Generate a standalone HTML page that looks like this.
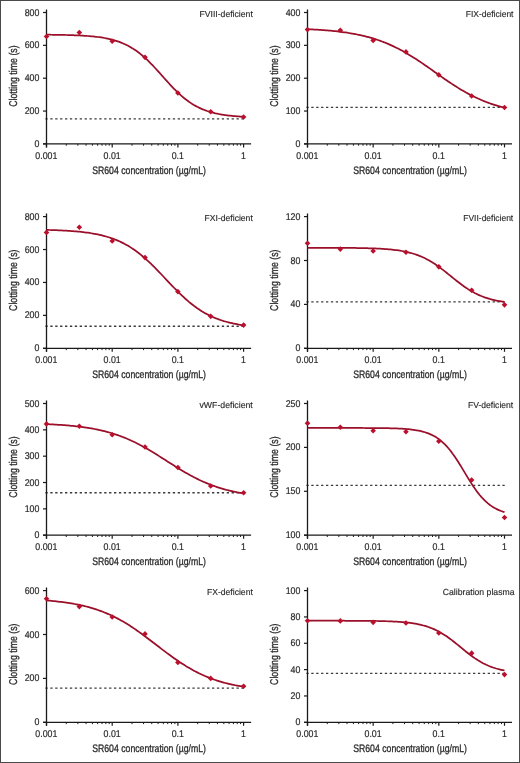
<!DOCTYPE html>
<html><head><meta charset="utf-8"><style>
html,body{margin:0;padding:0;background:#fff;}
svg{display:block;will-change:transform;} text{text-rendering:geometricPrecision;}
</style></head><body>
<svg width="520" height="763" viewBox="0 0 520 763">
<rect x="0" y="0" width="520" height="763" fill="#fff"/>
<g><line x1="45.40" y1="118.93" x2="244.60" y2="118.93" stroke="#3a3a3a" stroke-width="1.35" stroke-dasharray="2.3 2.6"/><path d="M46.50 9.50V147.40M43.00 143.90H251.10" stroke="#1a1a1a" stroke-width="1.3" fill="none"/><line x1="43.00" y1="143.90" x2="46.50" y2="143.90" stroke="#1a1a1a" stroke-width="1.2"/><text transform="translate(39.40,146.90) scale(0.9,1)" text-anchor="end" font-size="9.8" fill="#2a2a2a" stroke="#2a2a2a" stroke-width="0.2" font-family="'Liberation Sans', sans-serif">0</text><line x1="43.00" y1="111.05" x2="46.50" y2="111.05" stroke="#1a1a1a" stroke-width="1.2"/><text transform="translate(39.40,114.05) scale(0.9,1)" text-anchor="end" font-size="9.8" fill="#2a2a2a" stroke="#2a2a2a" stroke-width="0.2" font-family="'Liberation Sans', sans-serif">200</text><line x1="43.00" y1="78.20" x2="46.50" y2="78.20" stroke="#1a1a1a" stroke-width="1.2"/><text transform="translate(39.40,81.20) scale(0.9,1)" text-anchor="end" font-size="9.8" fill="#2a2a2a" stroke="#2a2a2a" stroke-width="0.2" font-family="'Liberation Sans', sans-serif">400</text><line x1="43.00" y1="45.35" x2="46.50" y2="45.35" stroke="#1a1a1a" stroke-width="1.2"/><text transform="translate(39.40,48.35) scale(0.9,1)" text-anchor="end" font-size="9.8" fill="#2a2a2a" stroke="#2a2a2a" stroke-width="0.2" font-family="'Liberation Sans', sans-serif">600</text><line x1="43.00" y1="12.50" x2="46.50" y2="12.50" stroke="#1a1a1a" stroke-width="1.2"/><text transform="translate(39.40,15.50) scale(0.9,1)" text-anchor="end" font-size="9.8" fill="#2a2a2a" stroke="#2a2a2a" stroke-width="0.2" font-family="'Liberation Sans', sans-serif">800</text><line x1="46.50" y1="143.90" x2="46.50" y2="147.40" stroke="#1a1a1a" stroke-width="1.2"/><text transform="translate(46.40,159.00) scale(0.9,1)" text-anchor="middle" font-size="9.8" fill="#2a2a2a" stroke="#2a2a2a" stroke-width="0.2" font-family="'Liberation Sans', sans-serif">0.001</text><line x1="112.20" y1="143.90" x2="112.20" y2="147.40" stroke="#1a1a1a" stroke-width="1.2"/><text transform="translate(112.10,159.00) scale(0.9,1)" text-anchor="middle" font-size="9.8" fill="#2a2a2a" stroke="#2a2a2a" stroke-width="0.2" font-family="'Liberation Sans', sans-serif">0.01</text><line x1="177.90" y1="143.90" x2="177.90" y2="147.40" stroke="#1a1a1a" stroke-width="1.2"/><text transform="translate(177.80,159.00) scale(0.9,1)" text-anchor="middle" font-size="9.8" fill="#2a2a2a" stroke="#2a2a2a" stroke-width="0.2" font-family="'Liberation Sans', sans-serif">0.1</text><line x1="243.60" y1="143.90" x2="243.60" y2="147.40" stroke="#1a1a1a" stroke-width="1.2"/><text transform="translate(243.50,159.00) scale(0.9,1)" text-anchor="middle" font-size="9.8" fill="#2a2a2a" stroke="#2a2a2a" stroke-width="0.2" font-family="'Liberation Sans', sans-serif">1</text><line x1="66.28" y1="143.90" x2="66.28" y2="145.70" stroke="#1a1a1a" stroke-width="1"/><line x1="77.85" y1="143.90" x2="77.85" y2="145.70" stroke="#1a1a1a" stroke-width="1"/><line x1="86.06" y1="143.90" x2="86.06" y2="145.70" stroke="#1a1a1a" stroke-width="1"/><line x1="92.42" y1="143.90" x2="92.42" y2="145.70" stroke="#1a1a1a" stroke-width="1"/><line x1="97.62" y1="143.90" x2="97.62" y2="145.70" stroke="#1a1a1a" stroke-width="1"/><line x1="102.02" y1="143.90" x2="102.02" y2="145.70" stroke="#1a1a1a" stroke-width="1"/><line x1="105.83" y1="143.90" x2="105.83" y2="145.70" stroke="#1a1a1a" stroke-width="1"/><line x1="109.19" y1="143.90" x2="109.19" y2="145.70" stroke="#1a1a1a" stroke-width="1"/><line x1="131.98" y1="143.90" x2="131.98" y2="145.70" stroke="#1a1a1a" stroke-width="1"/><line x1="143.55" y1="143.90" x2="143.55" y2="145.70" stroke="#1a1a1a" stroke-width="1"/><line x1="151.76" y1="143.90" x2="151.76" y2="145.70" stroke="#1a1a1a" stroke-width="1"/><line x1="158.12" y1="143.90" x2="158.12" y2="145.70" stroke="#1a1a1a" stroke-width="1"/><line x1="163.32" y1="143.90" x2="163.32" y2="145.70" stroke="#1a1a1a" stroke-width="1"/><line x1="167.72" y1="143.90" x2="167.72" y2="145.70" stroke="#1a1a1a" stroke-width="1"/><line x1="171.53" y1="143.90" x2="171.53" y2="145.70" stroke="#1a1a1a" stroke-width="1"/><line x1="174.89" y1="143.90" x2="174.89" y2="145.70" stroke="#1a1a1a" stroke-width="1"/><line x1="197.68" y1="143.90" x2="197.68" y2="145.70" stroke="#1a1a1a" stroke-width="1"/><line x1="209.25" y1="143.90" x2="209.25" y2="145.70" stroke="#1a1a1a" stroke-width="1"/><line x1="217.46" y1="143.90" x2="217.46" y2="145.70" stroke="#1a1a1a" stroke-width="1"/><line x1="223.82" y1="143.90" x2="223.82" y2="145.70" stroke="#1a1a1a" stroke-width="1"/><line x1="229.02" y1="143.90" x2="229.02" y2="145.70" stroke="#1a1a1a" stroke-width="1"/><line x1="233.42" y1="143.90" x2="233.42" y2="145.70" stroke="#1a1a1a" stroke-width="1"/><line x1="237.23" y1="143.90" x2="237.23" y2="145.70" stroke="#1a1a1a" stroke-width="1"/><line x1="240.59" y1="143.90" x2="240.59" y2="145.70" stroke="#1a1a1a" stroke-width="1"/><polyline points="46.50,34.70 48.16,34.71 49.81,34.73 51.47,34.75 53.13,34.77 54.78,34.79 56.44,34.81 58.09,34.84 59.75,34.86 61.41,34.89 63.06,34.93 64.72,34.96 66.38,35.00 68.03,35.04 69.69,35.09 71.34,35.14 73.00,35.20 74.66,35.26 76.31,35.33 77.97,35.40 79.63,35.48 81.28,35.56 82.94,35.66 84.59,35.76 86.25,35.87 87.91,36.00 89.56,36.13 91.22,36.28 92.88,36.43 94.53,36.61 96.19,36.79 97.85,37.00 99.50,37.22 101.16,37.46 102.81,37.73 104.47,38.01 106.13,38.32 107.78,38.66 109.44,39.03 111.10,39.42 112.75,39.85 114.41,40.31 116.06,40.81 117.72,41.35 119.38,41.93 121.03,42.56 122.69,43.23 124.35,43.95 126.00,44.72 127.66,45.55 129.32,46.44 130.97,47.38 132.63,48.38 134.28,49.45 135.94,50.57 137.60,51.76 139.25,53.02 140.91,54.34 142.57,55.72 144.22,57.16 145.88,58.67 147.53,60.23 149.19,61.85 150.85,63.52 152.50,65.23 154.16,66.98 155.82,68.77 157.47,70.59 159.13,72.43 160.78,74.29 162.44,76.15 164.10,78.01 165.75,79.87 167.41,81.71 169.07,83.52 170.72,85.31 172.38,87.07 174.04,88.78 175.69,90.45 177.35,92.07 179.00,93.63 180.66,95.14 182.32,96.58 183.97,97.97 185.63,99.29 187.29,100.54 188.94,101.74 190.60,102.86 192.25,103.93 193.91,104.93 195.57,105.88 197.22,106.76 198.88,107.59 200.54,108.36 202.19,109.09 203.85,109.76 205.51,110.39 207.16,110.97 208.82,111.51 210.47,112.01 212.13,112.47 213.79,112.90 215.44,113.30 217.10,113.66 218.76,114.00 220.41,114.31 222.07,114.60 223.72,114.86 225.38,115.10 227.04,115.33 228.69,115.53 230.35,115.72 232.01,115.89 233.66,116.05 235.32,116.20 236.97,116.33 238.63,116.45 240.29,116.57 241.94,116.67 243.60,116.76" fill="none" stroke="#9a0f2a" stroke-width="1.75" stroke-linejoin="round"/><path d="M46.50 33.68L49.30 36.48L46.50 39.28L43.70 36.48Z" fill="#bb102d"/><path d="M79.33 29.74L82.13 32.54L79.33 35.34L76.53 32.54Z" fill="#bb102d"/><path d="M112.20 38.44L115.00 41.24L112.20 44.04L109.40 41.24Z" fill="#bb102d"/><path d="M145.03 54.54L147.83 57.34L145.03 60.14L142.23 57.34Z" fill="#bb102d"/><path d="M177.90 90.18L180.70 92.98L177.90 95.78L175.10 92.98Z" fill="#bb102d"/><path d="M210.73 108.91L213.53 111.71L210.73 114.51L207.93 111.71Z" fill="#bb102d"/><path d="M243.60 114.16L246.40 116.96L243.60 119.76L240.80 116.96Z" fill="#bb102d"/><text x="199.50" y="16.70" font-size="8.8" fill="#2a2a2a" stroke="#2a2a2a" stroke-width="0.15" font-family="'Liberation Sans', sans-serif" textLength="53.30" lengthAdjust="spacingAndGlyphs">FVIII-deficient</text><text x="92.20" y="173.50" font-size="10.8" fill="#2a2a2a" stroke="#2a2a2a" stroke-width="0.3" font-family="'Liberation Sans', sans-serif" textLength="113.8" lengthAdjust="spacingAndGlyphs">SR604 concentration (µg/mL)</text><text transform="translate(16.80,76.10) rotate(-90)" x="0" y="0" text-anchor="middle" font-size="11.3" fill="#2a2a2a" stroke="#2a2a2a" stroke-width="0.3" font-family="'Liberation Sans', sans-serif" textLength="61.5" lengthAdjust="spacingAndGlyphs">Clotting time (s)</text></g>
<g><line x1="306.40" y1="107.44" x2="505.50" y2="107.44" stroke="#3a3a3a" stroke-width="1.35" stroke-dasharray="2.3 2.6"/><path d="M307.50 9.50V147.40M304.00 143.90H512.00" stroke="#1a1a1a" stroke-width="1.3" fill="none"/><line x1="304.00" y1="143.90" x2="307.50" y2="143.90" stroke="#1a1a1a" stroke-width="1.2"/><text transform="translate(300.40,146.90) scale(0.9,1)" text-anchor="end" font-size="9.8" fill="#2a2a2a" stroke="#2a2a2a" stroke-width="0.2" font-family="'Liberation Sans', sans-serif">0</text><line x1="304.00" y1="111.05" x2="307.50" y2="111.05" stroke="#1a1a1a" stroke-width="1.2"/><text transform="translate(300.40,114.05) scale(0.9,1)" text-anchor="end" font-size="9.8" fill="#2a2a2a" stroke="#2a2a2a" stroke-width="0.2" font-family="'Liberation Sans', sans-serif">100</text><line x1="304.00" y1="78.20" x2="307.50" y2="78.20" stroke="#1a1a1a" stroke-width="1.2"/><text transform="translate(300.40,81.20) scale(0.9,1)" text-anchor="end" font-size="9.8" fill="#2a2a2a" stroke="#2a2a2a" stroke-width="0.2" font-family="'Liberation Sans', sans-serif">200</text><line x1="304.00" y1="45.35" x2="307.50" y2="45.35" stroke="#1a1a1a" stroke-width="1.2"/><text transform="translate(300.40,48.35) scale(0.9,1)" text-anchor="end" font-size="9.8" fill="#2a2a2a" stroke="#2a2a2a" stroke-width="0.2" font-family="'Liberation Sans', sans-serif">300</text><line x1="304.00" y1="12.50" x2="307.50" y2="12.50" stroke="#1a1a1a" stroke-width="1.2"/><text transform="translate(300.40,15.50) scale(0.9,1)" text-anchor="end" font-size="9.8" fill="#2a2a2a" stroke="#2a2a2a" stroke-width="0.2" font-family="'Liberation Sans', sans-serif">400</text><line x1="307.50" y1="143.90" x2="307.50" y2="147.40" stroke="#1a1a1a" stroke-width="1.2"/><text transform="translate(307.40,159.00) scale(0.9,1)" text-anchor="middle" font-size="9.8" fill="#2a2a2a" stroke="#2a2a2a" stroke-width="0.2" font-family="'Liberation Sans', sans-serif">0.001</text><line x1="373.17" y1="143.90" x2="373.17" y2="147.40" stroke="#1a1a1a" stroke-width="1.2"/><text transform="translate(373.07,159.00) scale(0.9,1)" text-anchor="middle" font-size="9.8" fill="#2a2a2a" stroke="#2a2a2a" stroke-width="0.2" font-family="'Liberation Sans', sans-serif">0.01</text><line x1="438.83" y1="143.90" x2="438.83" y2="147.40" stroke="#1a1a1a" stroke-width="1.2"/><text transform="translate(438.73,159.00) scale(0.9,1)" text-anchor="middle" font-size="9.8" fill="#2a2a2a" stroke="#2a2a2a" stroke-width="0.2" font-family="'Liberation Sans', sans-serif">0.1</text><line x1="504.50" y1="143.90" x2="504.50" y2="147.40" stroke="#1a1a1a" stroke-width="1.2"/><text transform="translate(504.40,159.00) scale(0.9,1)" text-anchor="middle" font-size="9.8" fill="#2a2a2a" stroke="#2a2a2a" stroke-width="0.2" font-family="'Liberation Sans', sans-serif">1</text><line x1="327.27" y1="143.90" x2="327.27" y2="145.70" stroke="#1a1a1a" stroke-width="1"/><line x1="338.83" y1="143.90" x2="338.83" y2="145.70" stroke="#1a1a1a" stroke-width="1"/><line x1="347.04" y1="143.90" x2="347.04" y2="145.70" stroke="#1a1a1a" stroke-width="1"/><line x1="353.40" y1="143.90" x2="353.40" y2="145.70" stroke="#1a1a1a" stroke-width="1"/><line x1="358.60" y1="143.90" x2="358.60" y2="145.70" stroke="#1a1a1a" stroke-width="1"/><line x1="362.99" y1="143.90" x2="362.99" y2="145.70" stroke="#1a1a1a" stroke-width="1"/><line x1="366.80" y1="143.90" x2="366.80" y2="145.70" stroke="#1a1a1a" stroke-width="1"/><line x1="370.16" y1="143.90" x2="370.16" y2="145.70" stroke="#1a1a1a" stroke-width="1"/><line x1="392.93" y1="143.90" x2="392.93" y2="145.70" stroke="#1a1a1a" stroke-width="1"/><line x1="404.50" y1="143.90" x2="404.50" y2="145.70" stroke="#1a1a1a" stroke-width="1"/><line x1="412.70" y1="143.90" x2="412.70" y2="145.70" stroke="#1a1a1a" stroke-width="1"/><line x1="419.07" y1="143.90" x2="419.07" y2="145.70" stroke="#1a1a1a" stroke-width="1"/><line x1="424.27" y1="143.90" x2="424.27" y2="145.70" stroke="#1a1a1a" stroke-width="1"/><line x1="428.66" y1="143.90" x2="428.66" y2="145.70" stroke="#1a1a1a" stroke-width="1"/><line x1="432.47" y1="143.90" x2="432.47" y2="145.70" stroke="#1a1a1a" stroke-width="1"/><line x1="435.83" y1="143.90" x2="435.83" y2="145.70" stroke="#1a1a1a" stroke-width="1"/><line x1="458.60" y1="143.90" x2="458.60" y2="145.70" stroke="#1a1a1a" stroke-width="1"/><line x1="470.16" y1="143.90" x2="470.16" y2="145.70" stroke="#1a1a1a" stroke-width="1"/><line x1="478.37" y1="143.90" x2="478.37" y2="145.70" stroke="#1a1a1a" stroke-width="1"/><line x1="484.73" y1="143.90" x2="484.73" y2="145.70" stroke="#1a1a1a" stroke-width="1"/><line x1="489.93" y1="143.90" x2="489.93" y2="145.70" stroke="#1a1a1a" stroke-width="1"/><line x1="494.33" y1="143.90" x2="494.33" y2="145.70" stroke="#1a1a1a" stroke-width="1"/><line x1="498.14" y1="143.90" x2="498.14" y2="145.70" stroke="#1a1a1a" stroke-width="1"/><line x1="501.50" y1="143.90" x2="501.50" y2="145.70" stroke="#1a1a1a" stroke-width="1"/><polyline points="307.50,29.17 309.16,29.25 310.81,29.33 312.47,29.42 314.12,29.51 315.78,29.60 317.43,29.71 319.09,29.81 320.74,29.92 322.40,30.04 324.05,30.17 325.71,30.30 327.37,30.44 329.02,30.58 330.68,30.73 332.33,30.89 333.99,31.06 335.64,31.24 337.30,31.42 338.95,31.61 340.61,31.82 342.26,32.03 343.92,32.26 345.58,32.49 347.23,32.74 348.89,33.00 350.54,33.27 352.20,33.55 353.85,33.85 355.51,34.16 357.16,34.49 358.82,34.83 360.47,35.18 362.13,35.56 363.79,35.95 365.44,36.35 367.10,36.78 368.75,37.22 370.41,37.68 372.06,38.16 373.72,38.66 375.37,39.18 377.03,39.72 378.68,40.28 380.34,40.87 382.00,41.48 383.65,42.11 385.31,42.76 386.96,43.43 388.62,44.13 390.27,44.86 391.93,45.60 393.58,46.38 395.24,47.17 396.89,47.99 398.55,48.83 400.21,49.70 401.86,50.59 403.52,51.50 405.17,52.44 406.83,53.40 408.48,54.38 410.14,55.38 411.79,56.40 413.45,57.44 415.11,58.50 416.76,59.58 418.42,60.67 420.07,61.77 421.73,62.89 423.38,64.03 425.04,65.17 426.69,66.32 428.35,67.48 430.00,68.65 431.66,69.82 433.32,70.99 434.97,72.17 436.63,73.34 438.28,74.52 439.94,75.69 441.59,76.85 443.25,78.01 444.90,79.16 446.56,80.30 448.21,81.42 449.87,82.54 451.53,83.64 453.18,84.73 454.84,85.79 456.49,86.85 458.15,87.88 459.80,88.89 461.46,89.88 463.11,90.85 464.77,91.80 466.42,92.73 468.08,93.63 469.74,94.52 471.39,95.37 473.05,96.21 474.70,97.02 476.36,97.80 478.01,98.56 479.67,99.30 481.32,100.01 482.98,100.70 484.63,101.37 486.29,102.01 487.95,102.63 489.60,103.23 491.26,103.81 492.91,104.36 494.57,104.89 496.22,105.41 497.88,105.90 499.53,106.37 501.19,106.82 502.84,107.26 504.50,107.68" fill="none" stroke="#9a0f2a" stroke-width="1.75" stroke-linejoin="round"/><path d="M307.50 26.78L310.30 29.58L307.50 32.38L304.70 29.58Z" fill="#bb102d"/><path d="M340.31 27.44L343.11 30.24L340.31 33.04L337.51 30.24Z" fill="#bb102d"/><path d="M373.17 37.62L375.97 40.42L373.17 43.22L370.37 40.42Z" fill="#bb102d"/><path d="M405.98 49.12L408.78 51.92L405.98 54.72L403.18 51.92Z" fill="#bb102d"/><path d="M438.83 72.12L441.63 74.92L438.83 77.72L436.03 74.92Z" fill="#bb102d"/><path d="M471.65 93.14L474.45 95.94L471.65 98.74L468.85 95.94Z" fill="#bb102d"/><path d="M504.50 104.64L507.30 107.44L504.50 110.24L501.70 107.44Z" fill="#bb102d"/><text x="465.70" y="16.70" font-size="8.8" fill="#2a2a2a" stroke="#2a2a2a" stroke-width="0.15" font-family="'Liberation Sans', sans-serif" textLength="47.80" lengthAdjust="spacingAndGlyphs">FIX-deficient</text><text x="353.20" y="173.50" font-size="10.8" fill="#2a2a2a" stroke="#2a2a2a" stroke-width="0.3" font-family="'Liberation Sans', sans-serif" textLength="113.8" lengthAdjust="spacingAndGlyphs">SR604 concentration (µg/mL)</text><text transform="translate(277.80,76.10) rotate(-90)" x="0" y="0" text-anchor="middle" font-size="11.3" fill="#2a2a2a" stroke="#2a2a2a" stroke-width="0.3" font-family="'Liberation Sans', sans-serif" textLength="61.5" lengthAdjust="spacingAndGlyphs">Clotting time (s)</text></g>
<g><line x1="45.40" y1="326.24" x2="244.60" y2="326.24" stroke="#3a3a3a" stroke-width="1.35" stroke-dasharray="2.3 2.6"/><path d="M46.50 213.60V351.80M43.00 348.30H251.10" stroke="#1a1a1a" stroke-width="1.3" fill="none"/><line x1="43.00" y1="348.30" x2="46.50" y2="348.30" stroke="#1a1a1a" stroke-width="1.2"/><text transform="translate(39.40,351.30) scale(0.9,1)" text-anchor="end" font-size="9.8" fill="#2a2a2a" stroke="#2a2a2a" stroke-width="0.2" font-family="'Liberation Sans', sans-serif">0</text><line x1="43.00" y1="315.38" x2="46.50" y2="315.38" stroke="#1a1a1a" stroke-width="1.2"/><text transform="translate(39.40,318.38) scale(0.9,1)" text-anchor="end" font-size="9.8" fill="#2a2a2a" stroke="#2a2a2a" stroke-width="0.2" font-family="'Liberation Sans', sans-serif">200</text><line x1="43.00" y1="282.45" x2="46.50" y2="282.45" stroke="#1a1a1a" stroke-width="1.2"/><text transform="translate(39.40,285.45) scale(0.9,1)" text-anchor="end" font-size="9.8" fill="#2a2a2a" stroke="#2a2a2a" stroke-width="0.2" font-family="'Liberation Sans', sans-serif">400</text><line x1="43.00" y1="249.53" x2="46.50" y2="249.53" stroke="#1a1a1a" stroke-width="1.2"/><text transform="translate(39.40,252.53) scale(0.9,1)" text-anchor="end" font-size="9.8" fill="#2a2a2a" stroke="#2a2a2a" stroke-width="0.2" font-family="'Liberation Sans', sans-serif">600</text><line x1="43.00" y1="216.60" x2="46.50" y2="216.60" stroke="#1a1a1a" stroke-width="1.2"/><text transform="translate(39.40,219.60) scale(0.9,1)" text-anchor="end" font-size="9.8" fill="#2a2a2a" stroke="#2a2a2a" stroke-width="0.2" font-family="'Liberation Sans', sans-serif">800</text><line x1="46.50" y1="348.30" x2="46.50" y2="351.80" stroke="#1a1a1a" stroke-width="1.2"/><text transform="translate(46.40,363.40) scale(0.9,1)" text-anchor="middle" font-size="9.8" fill="#2a2a2a" stroke="#2a2a2a" stroke-width="0.2" font-family="'Liberation Sans', sans-serif">0.001</text><line x1="112.20" y1="348.30" x2="112.20" y2="351.80" stroke="#1a1a1a" stroke-width="1.2"/><text transform="translate(112.10,363.40) scale(0.9,1)" text-anchor="middle" font-size="9.8" fill="#2a2a2a" stroke="#2a2a2a" stroke-width="0.2" font-family="'Liberation Sans', sans-serif">0.01</text><line x1="177.90" y1="348.30" x2="177.90" y2="351.80" stroke="#1a1a1a" stroke-width="1.2"/><text transform="translate(177.80,363.40) scale(0.9,1)" text-anchor="middle" font-size="9.8" fill="#2a2a2a" stroke="#2a2a2a" stroke-width="0.2" font-family="'Liberation Sans', sans-serif">0.1</text><line x1="243.60" y1="348.30" x2="243.60" y2="351.80" stroke="#1a1a1a" stroke-width="1.2"/><text transform="translate(243.50,363.40) scale(0.9,1)" text-anchor="middle" font-size="9.8" fill="#2a2a2a" stroke="#2a2a2a" stroke-width="0.2" font-family="'Liberation Sans', sans-serif">1</text><line x1="66.28" y1="348.30" x2="66.28" y2="350.10" stroke="#1a1a1a" stroke-width="1"/><line x1="77.85" y1="348.30" x2="77.85" y2="350.10" stroke="#1a1a1a" stroke-width="1"/><line x1="86.06" y1="348.30" x2="86.06" y2="350.10" stroke="#1a1a1a" stroke-width="1"/><line x1="92.42" y1="348.30" x2="92.42" y2="350.10" stroke="#1a1a1a" stroke-width="1"/><line x1="97.62" y1="348.30" x2="97.62" y2="350.10" stroke="#1a1a1a" stroke-width="1"/><line x1="102.02" y1="348.30" x2="102.02" y2="350.10" stroke="#1a1a1a" stroke-width="1"/><line x1="105.83" y1="348.30" x2="105.83" y2="350.10" stroke="#1a1a1a" stroke-width="1"/><line x1="109.19" y1="348.30" x2="109.19" y2="350.10" stroke="#1a1a1a" stroke-width="1"/><line x1="131.98" y1="348.30" x2="131.98" y2="350.10" stroke="#1a1a1a" stroke-width="1"/><line x1="143.55" y1="348.30" x2="143.55" y2="350.10" stroke="#1a1a1a" stroke-width="1"/><line x1="151.76" y1="348.30" x2="151.76" y2="350.10" stroke="#1a1a1a" stroke-width="1"/><line x1="158.12" y1="348.30" x2="158.12" y2="350.10" stroke="#1a1a1a" stroke-width="1"/><line x1="163.32" y1="348.30" x2="163.32" y2="350.10" stroke="#1a1a1a" stroke-width="1"/><line x1="167.72" y1="348.30" x2="167.72" y2="350.10" stroke="#1a1a1a" stroke-width="1"/><line x1="171.53" y1="348.30" x2="171.53" y2="350.10" stroke="#1a1a1a" stroke-width="1"/><line x1="174.89" y1="348.30" x2="174.89" y2="350.10" stroke="#1a1a1a" stroke-width="1"/><line x1="197.68" y1="348.30" x2="197.68" y2="350.10" stroke="#1a1a1a" stroke-width="1"/><line x1="209.25" y1="348.30" x2="209.25" y2="350.10" stroke="#1a1a1a" stroke-width="1"/><line x1="217.46" y1="348.30" x2="217.46" y2="350.10" stroke="#1a1a1a" stroke-width="1"/><line x1="223.82" y1="348.30" x2="223.82" y2="350.10" stroke="#1a1a1a" stroke-width="1"/><line x1="229.02" y1="348.30" x2="229.02" y2="350.10" stroke="#1a1a1a" stroke-width="1"/><line x1="233.42" y1="348.30" x2="233.42" y2="350.10" stroke="#1a1a1a" stroke-width="1"/><line x1="237.23" y1="348.30" x2="237.23" y2="350.10" stroke="#1a1a1a" stroke-width="1"/><line x1="240.59" y1="348.30" x2="240.59" y2="350.10" stroke="#1a1a1a" stroke-width="1"/><polyline points="46.50,229.91 48.16,229.95 49.81,230.00 51.47,230.05 53.13,230.10 54.78,230.16 56.44,230.22 58.09,230.29 59.75,230.36 61.41,230.44 63.06,230.52 64.72,230.61 66.38,230.70 68.03,230.80 69.69,230.91 71.34,231.03 73.00,231.15 74.66,231.28 76.31,231.43 77.97,231.58 79.63,231.74 81.28,231.92 82.94,232.10 84.59,232.30 86.25,232.51 87.91,232.74 89.56,232.98 91.22,233.24 92.88,233.52 94.53,233.81 96.19,234.13 97.85,234.46 99.50,234.82 101.16,235.20 102.81,235.61 104.47,236.04 106.13,236.50 107.78,236.99 109.44,237.50 111.10,238.05 112.75,238.64 114.41,239.25 116.06,239.90 117.72,240.59 119.38,241.32 121.03,242.09 122.69,242.90 124.35,243.76 126.00,244.65 127.66,245.60 129.32,246.59 130.97,247.62 132.63,248.70 134.28,249.83 135.94,251.01 137.60,252.24 139.25,253.51 140.91,254.84 142.57,256.20 144.22,257.62 145.88,259.07 147.53,260.57 149.19,262.11 150.85,263.69 152.50,265.30 154.16,266.94 155.82,268.61 157.47,270.31 159.13,272.03 160.78,273.76 162.44,275.51 164.10,277.27 165.75,279.03 167.41,280.79 169.07,282.54 170.72,284.29 172.38,286.03 174.04,287.74 175.69,289.44 177.35,291.11 179.00,292.75 180.66,294.36 182.32,295.94 183.97,297.48 185.63,298.98 187.29,300.43 188.94,301.85 190.60,303.21 192.25,304.53 193.91,305.81 195.57,307.03 197.22,308.21 198.88,309.34 200.54,310.42 202.19,311.46 203.85,312.44 205.51,313.39 207.16,314.28 208.82,315.14 210.47,315.95 212.13,316.71 213.79,317.44 215.44,318.13 217.10,318.78 218.76,319.40 220.41,319.98 222.07,320.53 223.72,321.05 225.38,321.53 227.04,321.99 228.69,322.42 230.35,322.83 232.01,323.21 233.66,323.57 235.32,323.90 236.97,324.22 238.63,324.51 240.29,324.79 241.94,325.05 243.60,325.29" fill="none" stroke="#9a0f2a" stroke-width="1.75" stroke-linejoin="round"/><path d="M46.50 229.60L49.30 232.40L46.50 235.20L43.70 232.40Z" fill="#bb102d"/><path d="M79.33 224.50L82.13 227.30L79.33 230.10L76.53 227.30Z" fill="#bb102d"/><path d="M112.20 238.16L115.00 240.96L112.20 243.76L109.40 240.96Z" fill="#bb102d"/><path d="M145.03 254.79L147.83 257.59L145.03 260.39L142.23 257.59Z" fill="#bb102d"/><path d="M177.90 288.87L180.70 291.67L177.90 294.47L175.10 291.67Z" fill="#bb102d"/><path d="M210.73 313.56L213.53 316.36L210.73 319.16L207.93 316.36Z" fill="#bb102d"/><path d="M243.60 322.29L246.40 325.09L243.60 327.89L240.80 325.09Z" fill="#bb102d"/><text x="204.60" y="220.80" font-size="8.8" fill="#2a2a2a" stroke="#2a2a2a" stroke-width="0.15" font-family="'Liberation Sans', sans-serif" textLength="48.20" lengthAdjust="spacingAndGlyphs">FXI-deficient</text><text x="92.20" y="377.90" font-size="10.8" fill="#2a2a2a" stroke="#2a2a2a" stroke-width="0.3" font-family="'Liberation Sans', sans-serif" textLength="113.8" lengthAdjust="spacingAndGlyphs">SR604 concentration (µg/mL)</text><text transform="translate(16.80,280.20) rotate(-90)" x="0" y="0" text-anchor="middle" font-size="11.3" fill="#2a2a2a" stroke="#2a2a2a" stroke-width="0.3" font-family="'Liberation Sans', sans-serif" textLength="61.5" lengthAdjust="spacingAndGlyphs">Clotting time (s)</text></g>
<g><line x1="306.40" y1="301.88" x2="505.50" y2="301.88" stroke="#3a3a3a" stroke-width="1.35" stroke-dasharray="2.3 2.6"/><path d="M307.50 213.60V351.80M304.00 348.30H512.00" stroke="#1a1a1a" stroke-width="1.3" fill="none"/><line x1="304.00" y1="348.30" x2="307.50" y2="348.30" stroke="#1a1a1a" stroke-width="1.2"/><text transform="translate(300.40,351.30) scale(0.9,1)" text-anchor="end" font-size="9.8" fill="#2a2a2a" stroke="#2a2a2a" stroke-width="0.2" font-family="'Liberation Sans', sans-serif">0</text><line x1="304.00" y1="304.40" x2="307.50" y2="304.40" stroke="#1a1a1a" stroke-width="1.2"/><text transform="translate(300.40,307.40) scale(0.9,1)" text-anchor="end" font-size="9.8" fill="#2a2a2a" stroke="#2a2a2a" stroke-width="0.2" font-family="'Liberation Sans', sans-serif">40</text><line x1="304.00" y1="260.50" x2="307.50" y2="260.50" stroke="#1a1a1a" stroke-width="1.2"/><text transform="translate(300.40,263.50) scale(0.9,1)" text-anchor="end" font-size="9.8" fill="#2a2a2a" stroke="#2a2a2a" stroke-width="0.2" font-family="'Liberation Sans', sans-serif">80</text><line x1="304.00" y1="216.60" x2="307.50" y2="216.60" stroke="#1a1a1a" stroke-width="1.2"/><text transform="translate(300.40,219.60) scale(0.9,1)" text-anchor="end" font-size="9.8" fill="#2a2a2a" stroke="#2a2a2a" stroke-width="0.2" font-family="'Liberation Sans', sans-serif">120</text><line x1="307.50" y1="348.30" x2="307.50" y2="351.80" stroke="#1a1a1a" stroke-width="1.2"/><text transform="translate(307.40,363.40) scale(0.9,1)" text-anchor="middle" font-size="9.8" fill="#2a2a2a" stroke="#2a2a2a" stroke-width="0.2" font-family="'Liberation Sans', sans-serif">0.001</text><line x1="373.17" y1="348.30" x2="373.17" y2="351.80" stroke="#1a1a1a" stroke-width="1.2"/><text transform="translate(373.07,363.40) scale(0.9,1)" text-anchor="middle" font-size="9.8" fill="#2a2a2a" stroke="#2a2a2a" stroke-width="0.2" font-family="'Liberation Sans', sans-serif">0.01</text><line x1="438.83" y1="348.30" x2="438.83" y2="351.80" stroke="#1a1a1a" stroke-width="1.2"/><text transform="translate(438.73,363.40) scale(0.9,1)" text-anchor="middle" font-size="9.8" fill="#2a2a2a" stroke="#2a2a2a" stroke-width="0.2" font-family="'Liberation Sans', sans-serif">0.1</text><line x1="504.50" y1="348.30" x2="504.50" y2="351.80" stroke="#1a1a1a" stroke-width="1.2"/><text transform="translate(504.40,363.40) scale(0.9,1)" text-anchor="middle" font-size="9.8" fill="#2a2a2a" stroke="#2a2a2a" stroke-width="0.2" font-family="'Liberation Sans', sans-serif">1</text><line x1="327.27" y1="348.30" x2="327.27" y2="350.10" stroke="#1a1a1a" stroke-width="1"/><line x1="338.83" y1="348.30" x2="338.83" y2="350.10" stroke="#1a1a1a" stroke-width="1"/><line x1="347.04" y1="348.30" x2="347.04" y2="350.10" stroke="#1a1a1a" stroke-width="1"/><line x1="353.40" y1="348.30" x2="353.40" y2="350.10" stroke="#1a1a1a" stroke-width="1"/><line x1="358.60" y1="348.30" x2="358.60" y2="350.10" stroke="#1a1a1a" stroke-width="1"/><line x1="362.99" y1="348.30" x2="362.99" y2="350.10" stroke="#1a1a1a" stroke-width="1"/><line x1="366.80" y1="348.30" x2="366.80" y2="350.10" stroke="#1a1a1a" stroke-width="1"/><line x1="370.16" y1="348.30" x2="370.16" y2="350.10" stroke="#1a1a1a" stroke-width="1"/><line x1="392.93" y1="348.30" x2="392.93" y2="350.10" stroke="#1a1a1a" stroke-width="1"/><line x1="404.50" y1="348.30" x2="404.50" y2="350.10" stroke="#1a1a1a" stroke-width="1"/><line x1="412.70" y1="348.30" x2="412.70" y2="350.10" stroke="#1a1a1a" stroke-width="1"/><line x1="419.07" y1="348.30" x2="419.07" y2="350.10" stroke="#1a1a1a" stroke-width="1"/><line x1="424.27" y1="348.30" x2="424.27" y2="350.10" stroke="#1a1a1a" stroke-width="1"/><line x1="428.66" y1="348.30" x2="428.66" y2="350.10" stroke="#1a1a1a" stroke-width="1"/><line x1="432.47" y1="348.30" x2="432.47" y2="350.10" stroke="#1a1a1a" stroke-width="1"/><line x1="435.83" y1="348.30" x2="435.83" y2="350.10" stroke="#1a1a1a" stroke-width="1"/><line x1="458.60" y1="348.30" x2="458.60" y2="350.10" stroke="#1a1a1a" stroke-width="1"/><line x1="470.16" y1="348.30" x2="470.16" y2="350.10" stroke="#1a1a1a" stroke-width="1"/><line x1="478.37" y1="348.30" x2="478.37" y2="350.10" stroke="#1a1a1a" stroke-width="1"/><line x1="484.73" y1="348.30" x2="484.73" y2="350.10" stroke="#1a1a1a" stroke-width="1"/><line x1="489.93" y1="348.30" x2="489.93" y2="350.10" stroke="#1a1a1a" stroke-width="1"/><line x1="494.33" y1="348.30" x2="494.33" y2="350.10" stroke="#1a1a1a" stroke-width="1"/><line x1="498.14" y1="348.30" x2="498.14" y2="350.10" stroke="#1a1a1a" stroke-width="1"/><line x1="501.50" y1="348.30" x2="501.50" y2="350.10" stroke="#1a1a1a" stroke-width="1"/><polyline points="307.50,247.76 309.16,247.76 310.81,247.77 312.47,247.77 314.12,247.77 315.78,247.77 317.43,247.77 319.09,247.78 320.74,247.78 322.40,247.78 324.05,247.79 325.71,247.79 327.37,247.80 329.02,247.80 330.68,247.81 332.33,247.81 333.99,247.82 335.64,247.82 337.30,247.83 338.95,247.84 340.61,247.85 342.26,247.86 343.92,247.87 345.58,247.88 347.23,247.90 348.89,247.91 350.54,247.93 352.20,247.95 353.85,247.97 355.51,247.99 357.16,248.01 358.82,248.04 360.47,248.07 362.13,248.10 363.79,248.13 365.44,248.17 367.10,248.21 368.75,248.26 370.41,248.31 372.06,248.37 373.72,248.43 375.37,248.49 377.03,248.57 378.68,248.65 380.34,248.73 382.00,248.83 383.65,248.94 385.31,249.05 386.96,249.18 388.62,249.32 390.27,249.47 391.93,249.63 393.58,249.82 395.24,250.01 396.89,250.23 398.55,250.46 400.21,250.72 401.86,251.00 403.52,251.30 405.17,251.63 406.83,251.99 408.48,252.38 410.14,252.80 411.79,253.25 413.45,253.74 415.11,254.27 416.76,254.83 418.42,255.44 420.07,256.10 421.73,256.79 423.38,257.54 425.04,258.33 426.69,259.17 428.35,260.06 430.00,261.00 431.66,261.99 433.32,263.02 434.97,264.10 436.63,265.23 438.28,266.40 439.94,267.60 441.59,268.84 443.25,270.11 444.90,271.41 446.56,272.72 448.21,274.06 449.87,275.40 451.53,276.74 453.18,278.08 454.84,279.41 456.49,280.73 458.15,282.03 459.80,283.30 461.46,284.54 463.11,285.74 464.77,286.91 466.42,288.04 468.08,289.12 469.74,290.16 471.39,291.15 473.05,292.08 474.70,292.98 476.36,293.82 478.01,294.61 479.67,295.36 481.32,296.06 482.98,296.71 484.63,297.32 486.29,297.89 487.95,298.42 489.60,298.91 491.26,299.36 492.91,299.78 494.57,300.17 496.22,300.53 497.88,300.86 499.53,301.16 501.19,301.44 502.84,301.70 504.50,301.93" fill="none" stroke="#9a0f2a" stroke-width="1.75" stroke-linejoin="round"/><path d="M307.50 240.47L310.30 243.27L307.50 246.07L304.70 243.27Z" fill="#bb102d"/><path d="M340.31 246.29L343.11 249.09L340.31 251.89L337.51 249.09Z" fill="#bb102d"/><path d="M373.17 248.26L375.97 251.06L373.17 253.86L370.37 251.06Z" fill="#bb102d"/><path d="M405.98 249.47L408.78 252.27L405.98 255.07L403.18 252.27Z" fill="#bb102d"/><path d="M438.83 264.07L441.63 266.87L438.83 269.67L436.03 266.87Z" fill="#bb102d"/><path d="M471.65 287.44L474.45 290.24L471.65 293.04L468.85 290.24Z" fill="#bb102d"/><path d="M504.50 302.04L507.30 304.84L504.50 307.64L501.70 304.84Z" fill="#bb102d"/><text x="463.30" y="220.80" font-size="8.8" fill="#2a2a2a" stroke="#2a2a2a" stroke-width="0.15" font-family="'Liberation Sans', sans-serif" textLength="49.90" lengthAdjust="spacingAndGlyphs">FVII-deficient</text><text x="353.20" y="377.90" font-size="10.8" fill="#2a2a2a" stroke="#2a2a2a" stroke-width="0.3" font-family="'Liberation Sans', sans-serif" textLength="113.8" lengthAdjust="spacingAndGlyphs">SR604 concentration (µg/mL)</text><text transform="translate(277.80,280.20) rotate(-90)" x="0" y="0" text-anchor="middle" font-size="11.3" fill="#2a2a2a" stroke="#2a2a2a" stroke-width="0.3" font-family="'Liberation Sans', sans-serif" textLength="61.5" lengthAdjust="spacingAndGlyphs">Clotting time (s)</text></g>
<g><line x1="45.40" y1="492.79" x2="244.60" y2="492.79" stroke="#3a3a3a" stroke-width="1.35" stroke-dasharray="2.3 2.6"/><path d="M46.50 400.50V538.70M43.00 535.20H251.10" stroke="#1a1a1a" stroke-width="1.3" fill="none"/><line x1="43.00" y1="535.20" x2="46.50" y2="535.20" stroke="#1a1a1a" stroke-width="1.2"/><text transform="translate(39.40,538.20) scale(0.9,1)" text-anchor="end" font-size="9.8" fill="#2a2a2a" stroke="#2a2a2a" stroke-width="0.2" font-family="'Liberation Sans', sans-serif">0</text><line x1="43.00" y1="508.86" x2="46.50" y2="508.86" stroke="#1a1a1a" stroke-width="1.2"/><text transform="translate(39.40,511.86) scale(0.9,1)" text-anchor="end" font-size="9.8" fill="#2a2a2a" stroke="#2a2a2a" stroke-width="0.2" font-family="'Liberation Sans', sans-serif">100</text><line x1="43.00" y1="482.52" x2="46.50" y2="482.52" stroke="#1a1a1a" stroke-width="1.2"/><text transform="translate(39.40,485.52) scale(0.9,1)" text-anchor="end" font-size="9.8" fill="#2a2a2a" stroke="#2a2a2a" stroke-width="0.2" font-family="'Liberation Sans', sans-serif">200</text><line x1="43.00" y1="456.18" x2="46.50" y2="456.18" stroke="#1a1a1a" stroke-width="1.2"/><text transform="translate(39.40,459.18) scale(0.9,1)" text-anchor="end" font-size="9.8" fill="#2a2a2a" stroke="#2a2a2a" stroke-width="0.2" font-family="'Liberation Sans', sans-serif">300</text><line x1="43.00" y1="429.84" x2="46.50" y2="429.84" stroke="#1a1a1a" stroke-width="1.2"/><text transform="translate(39.40,432.84) scale(0.9,1)" text-anchor="end" font-size="9.8" fill="#2a2a2a" stroke="#2a2a2a" stroke-width="0.2" font-family="'Liberation Sans', sans-serif">400</text><line x1="43.00" y1="403.50" x2="46.50" y2="403.50" stroke="#1a1a1a" stroke-width="1.2"/><text transform="translate(39.40,406.50) scale(0.9,1)" text-anchor="end" font-size="9.8" fill="#2a2a2a" stroke="#2a2a2a" stroke-width="0.2" font-family="'Liberation Sans', sans-serif">500</text><line x1="46.50" y1="535.20" x2="46.50" y2="538.70" stroke="#1a1a1a" stroke-width="1.2"/><text transform="translate(46.40,550.30) scale(0.9,1)" text-anchor="middle" font-size="9.8" fill="#2a2a2a" stroke="#2a2a2a" stroke-width="0.2" font-family="'Liberation Sans', sans-serif">0.001</text><line x1="112.20" y1="535.20" x2="112.20" y2="538.70" stroke="#1a1a1a" stroke-width="1.2"/><text transform="translate(112.10,550.30) scale(0.9,1)" text-anchor="middle" font-size="9.8" fill="#2a2a2a" stroke="#2a2a2a" stroke-width="0.2" font-family="'Liberation Sans', sans-serif">0.01</text><line x1="177.90" y1="535.20" x2="177.90" y2="538.70" stroke="#1a1a1a" stroke-width="1.2"/><text transform="translate(177.80,550.30) scale(0.9,1)" text-anchor="middle" font-size="9.8" fill="#2a2a2a" stroke="#2a2a2a" stroke-width="0.2" font-family="'Liberation Sans', sans-serif">0.1</text><line x1="243.60" y1="535.20" x2="243.60" y2="538.70" stroke="#1a1a1a" stroke-width="1.2"/><text transform="translate(243.50,550.30) scale(0.9,1)" text-anchor="middle" font-size="9.8" fill="#2a2a2a" stroke="#2a2a2a" stroke-width="0.2" font-family="'Liberation Sans', sans-serif">1</text><line x1="66.28" y1="535.20" x2="66.28" y2="537.00" stroke="#1a1a1a" stroke-width="1"/><line x1="77.85" y1="535.20" x2="77.85" y2="537.00" stroke="#1a1a1a" stroke-width="1"/><line x1="86.06" y1="535.20" x2="86.06" y2="537.00" stroke="#1a1a1a" stroke-width="1"/><line x1="92.42" y1="535.20" x2="92.42" y2="537.00" stroke="#1a1a1a" stroke-width="1"/><line x1="97.62" y1="535.20" x2="97.62" y2="537.00" stroke="#1a1a1a" stroke-width="1"/><line x1="102.02" y1="535.20" x2="102.02" y2="537.00" stroke="#1a1a1a" stroke-width="1"/><line x1="105.83" y1="535.20" x2="105.83" y2="537.00" stroke="#1a1a1a" stroke-width="1"/><line x1="109.19" y1="535.20" x2="109.19" y2="537.00" stroke="#1a1a1a" stroke-width="1"/><line x1="131.98" y1="535.20" x2="131.98" y2="537.00" stroke="#1a1a1a" stroke-width="1"/><line x1="143.55" y1="535.20" x2="143.55" y2="537.00" stroke="#1a1a1a" stroke-width="1"/><line x1="151.76" y1="535.20" x2="151.76" y2="537.00" stroke="#1a1a1a" stroke-width="1"/><line x1="158.12" y1="535.20" x2="158.12" y2="537.00" stroke="#1a1a1a" stroke-width="1"/><line x1="163.32" y1="535.20" x2="163.32" y2="537.00" stroke="#1a1a1a" stroke-width="1"/><line x1="167.72" y1="535.20" x2="167.72" y2="537.00" stroke="#1a1a1a" stroke-width="1"/><line x1="171.53" y1="535.20" x2="171.53" y2="537.00" stroke="#1a1a1a" stroke-width="1"/><line x1="174.89" y1="535.20" x2="174.89" y2="537.00" stroke="#1a1a1a" stroke-width="1"/><line x1="197.68" y1="535.20" x2="197.68" y2="537.00" stroke="#1a1a1a" stroke-width="1"/><line x1="209.25" y1="535.20" x2="209.25" y2="537.00" stroke="#1a1a1a" stroke-width="1"/><line x1="217.46" y1="535.20" x2="217.46" y2="537.00" stroke="#1a1a1a" stroke-width="1"/><line x1="223.82" y1="535.20" x2="223.82" y2="537.00" stroke="#1a1a1a" stroke-width="1"/><line x1="229.02" y1="535.20" x2="229.02" y2="537.00" stroke="#1a1a1a" stroke-width="1"/><line x1="233.42" y1="535.20" x2="233.42" y2="537.00" stroke="#1a1a1a" stroke-width="1"/><line x1="237.23" y1="535.20" x2="237.23" y2="537.00" stroke="#1a1a1a" stroke-width="1"/><line x1="240.59" y1="535.20" x2="240.59" y2="537.00" stroke="#1a1a1a" stroke-width="1"/><polyline points="46.50,424.15 48.16,424.22 49.81,424.30 51.47,424.38 53.13,424.47 54.78,424.56 56.44,424.66 58.09,424.76 59.75,424.87 61.41,424.98 63.06,425.10 64.72,425.22 66.38,425.35 68.03,425.49 69.69,425.64 71.34,425.80 73.00,425.96 74.66,426.13 76.31,426.31 77.97,426.50 79.63,426.70 81.28,426.91 82.94,427.13 84.59,427.36 86.25,427.60 87.91,427.86 89.56,428.13 91.22,428.41 92.88,428.70 94.53,429.01 96.19,429.34 97.85,429.68 99.50,430.03 101.16,430.41 102.81,430.79 104.47,431.20 106.13,431.63 107.78,432.07 109.44,432.53 111.10,433.01 112.75,433.51 114.41,434.04 116.06,434.58 117.72,435.15 119.38,435.73 121.03,436.34 122.69,436.97 124.35,437.63 126.00,438.30 127.66,439.00 129.32,439.72 130.97,440.47 132.63,441.23 134.28,442.02 135.94,442.83 137.60,443.67 139.25,444.52 140.91,445.40 142.57,446.29 144.22,447.21 145.88,448.14 147.53,449.09 149.19,450.06 150.85,451.04 152.50,452.03 154.16,453.04 155.82,454.06 157.47,455.09 159.13,456.13 160.78,457.18 162.44,458.23 164.10,459.29 165.75,460.35 167.41,461.40 169.07,462.46 170.72,463.52 172.38,464.57 174.04,465.61 175.69,466.65 177.35,467.68 179.00,468.70 180.66,469.70 182.32,470.70 183.97,471.67 185.63,472.64 187.29,473.58 188.94,474.51 190.60,475.42 192.25,476.31 193.91,477.18 195.57,478.03 197.22,478.86 198.88,479.67 200.54,480.45 202.19,481.21 203.85,481.95 205.51,482.67 207.16,483.36 208.82,484.03 210.47,484.68 212.13,485.31 213.79,485.91 215.44,486.49 217.10,487.05 218.76,487.59 220.41,488.11 222.07,488.60 223.72,489.08 225.38,489.54 227.04,489.98 228.69,490.40 230.35,490.80 232.01,491.19 233.66,491.55 235.32,491.91 236.97,492.24 238.63,492.56 240.29,492.87 241.94,493.16 243.60,493.44" fill="none" stroke="#9a0f2a" stroke-width="1.75" stroke-linejoin="round"/><path d="M46.50 421.09L49.30 423.89L46.50 426.69L43.70 423.89Z" fill="#bb102d"/><path d="M79.33 423.41L82.13 426.21L79.33 429.01L76.53 426.21Z" fill="#bb102d"/><path d="M112.20 431.91L115.00 434.71L112.20 437.51L109.40 434.71Z" fill="#bb102d"/><path d="M145.03 444.16L147.83 446.96L145.03 449.76L142.23 446.96Z" fill="#bb102d"/><path d="M177.90 464.71L180.70 467.51L177.90 470.31L175.10 467.51Z" fill="#bb102d"/><path d="M210.73 483.14L213.53 485.94L210.73 488.74L207.93 485.94Z" fill="#bb102d"/><path d="M243.60 489.99L246.40 492.79L243.60 495.59L240.80 492.79Z" fill="#bb102d"/><text x="199.50" y="407.70" font-size="8.8" fill="#2a2a2a" stroke="#2a2a2a" stroke-width="0.15" font-family="'Liberation Sans', sans-serif" textLength="53.30" lengthAdjust="spacingAndGlyphs">vWF-deficient</text><text x="92.20" y="564.80" font-size="10.8" fill="#2a2a2a" stroke="#2a2a2a" stroke-width="0.3" font-family="'Liberation Sans', sans-serif" textLength="113.8" lengthAdjust="spacingAndGlyphs">SR604 concentration (µg/mL)</text><text transform="translate(16.80,467.10) rotate(-90)" x="0" y="0" text-anchor="middle" font-size="11.3" fill="#2a2a2a" stroke="#2a2a2a" stroke-width="0.3" font-family="'Liberation Sans', sans-serif" textLength="61.5" lengthAdjust="spacingAndGlyphs">Clotting time (s)</text></g>
<g><line x1="306.40" y1="485.42" x2="505.50" y2="485.42" stroke="#3a3a3a" stroke-width="1.35" stroke-dasharray="2.3 2.6"/><path d="M307.50 400.50V538.70M304.00 535.20H512.00" stroke="#1a1a1a" stroke-width="1.3" fill="none"/><line x1="304.00" y1="535.20" x2="307.50" y2="535.20" stroke="#1a1a1a" stroke-width="1.2"/><text transform="translate(300.40,538.20) scale(0.9,1)" text-anchor="end" font-size="9.8" fill="#2a2a2a" stroke="#2a2a2a" stroke-width="0.2" font-family="'Liberation Sans', sans-serif">100</text><line x1="304.00" y1="491.30" x2="307.50" y2="491.30" stroke="#1a1a1a" stroke-width="1.2"/><text transform="translate(300.40,494.30) scale(0.9,1)" text-anchor="end" font-size="9.8" fill="#2a2a2a" stroke="#2a2a2a" stroke-width="0.2" font-family="'Liberation Sans', sans-serif">150</text><line x1="304.00" y1="447.40" x2="307.50" y2="447.40" stroke="#1a1a1a" stroke-width="1.2"/><text transform="translate(300.40,450.40) scale(0.9,1)" text-anchor="end" font-size="9.8" fill="#2a2a2a" stroke="#2a2a2a" stroke-width="0.2" font-family="'Liberation Sans', sans-serif">200</text><line x1="304.00" y1="403.50" x2="307.50" y2="403.50" stroke="#1a1a1a" stroke-width="1.2"/><text transform="translate(300.40,406.50) scale(0.9,1)" text-anchor="end" font-size="9.8" fill="#2a2a2a" stroke="#2a2a2a" stroke-width="0.2" font-family="'Liberation Sans', sans-serif">250</text><line x1="307.50" y1="535.20" x2="307.50" y2="538.70" stroke="#1a1a1a" stroke-width="1.2"/><text transform="translate(307.40,550.30) scale(0.9,1)" text-anchor="middle" font-size="9.8" fill="#2a2a2a" stroke="#2a2a2a" stroke-width="0.2" font-family="'Liberation Sans', sans-serif">0.001</text><line x1="373.17" y1="535.20" x2="373.17" y2="538.70" stroke="#1a1a1a" stroke-width="1.2"/><text transform="translate(373.07,550.30) scale(0.9,1)" text-anchor="middle" font-size="9.8" fill="#2a2a2a" stroke="#2a2a2a" stroke-width="0.2" font-family="'Liberation Sans', sans-serif">0.01</text><line x1="438.83" y1="535.20" x2="438.83" y2="538.70" stroke="#1a1a1a" stroke-width="1.2"/><text transform="translate(438.73,550.30) scale(0.9,1)" text-anchor="middle" font-size="9.8" fill="#2a2a2a" stroke="#2a2a2a" stroke-width="0.2" font-family="'Liberation Sans', sans-serif">0.1</text><line x1="504.50" y1="535.20" x2="504.50" y2="538.70" stroke="#1a1a1a" stroke-width="1.2"/><text transform="translate(504.40,550.30) scale(0.9,1)" text-anchor="middle" font-size="9.8" fill="#2a2a2a" stroke="#2a2a2a" stroke-width="0.2" font-family="'Liberation Sans', sans-serif">1</text><line x1="327.27" y1="535.20" x2="327.27" y2="537.00" stroke="#1a1a1a" stroke-width="1"/><line x1="338.83" y1="535.20" x2="338.83" y2="537.00" stroke="#1a1a1a" stroke-width="1"/><line x1="347.04" y1="535.20" x2="347.04" y2="537.00" stroke="#1a1a1a" stroke-width="1"/><line x1="353.40" y1="535.20" x2="353.40" y2="537.00" stroke="#1a1a1a" stroke-width="1"/><line x1="358.60" y1="535.20" x2="358.60" y2="537.00" stroke="#1a1a1a" stroke-width="1"/><line x1="362.99" y1="535.20" x2="362.99" y2="537.00" stroke="#1a1a1a" stroke-width="1"/><line x1="366.80" y1="535.20" x2="366.80" y2="537.00" stroke="#1a1a1a" stroke-width="1"/><line x1="370.16" y1="535.20" x2="370.16" y2="537.00" stroke="#1a1a1a" stroke-width="1"/><line x1="392.93" y1="535.20" x2="392.93" y2="537.00" stroke="#1a1a1a" stroke-width="1"/><line x1="404.50" y1="535.20" x2="404.50" y2="537.00" stroke="#1a1a1a" stroke-width="1"/><line x1="412.70" y1="535.20" x2="412.70" y2="537.00" stroke="#1a1a1a" stroke-width="1"/><line x1="419.07" y1="535.20" x2="419.07" y2="537.00" stroke="#1a1a1a" stroke-width="1"/><line x1="424.27" y1="535.20" x2="424.27" y2="537.00" stroke="#1a1a1a" stroke-width="1"/><line x1="428.66" y1="535.20" x2="428.66" y2="537.00" stroke="#1a1a1a" stroke-width="1"/><line x1="432.47" y1="535.20" x2="432.47" y2="537.00" stroke="#1a1a1a" stroke-width="1"/><line x1="435.83" y1="535.20" x2="435.83" y2="537.00" stroke="#1a1a1a" stroke-width="1"/><line x1="458.60" y1="535.20" x2="458.60" y2="537.00" stroke="#1a1a1a" stroke-width="1"/><line x1="470.16" y1="535.20" x2="470.16" y2="537.00" stroke="#1a1a1a" stroke-width="1"/><line x1="478.37" y1="535.20" x2="478.37" y2="537.00" stroke="#1a1a1a" stroke-width="1"/><line x1="484.73" y1="535.20" x2="484.73" y2="537.00" stroke="#1a1a1a" stroke-width="1"/><line x1="489.93" y1="535.20" x2="489.93" y2="537.00" stroke="#1a1a1a" stroke-width="1"/><line x1="494.33" y1="535.20" x2="494.33" y2="537.00" stroke="#1a1a1a" stroke-width="1"/><line x1="498.14" y1="535.20" x2="498.14" y2="537.00" stroke="#1a1a1a" stroke-width="1"/><line x1="501.50" y1="535.20" x2="501.50" y2="537.00" stroke="#1a1a1a" stroke-width="1"/><polyline points="307.50,427.95 309.16,427.95 310.81,427.95 312.47,427.95 314.12,427.95 315.78,427.95 317.43,427.95 319.09,427.95 320.74,427.95 322.40,427.95 324.05,427.95 325.71,427.95 327.37,427.96 329.02,427.96 330.68,427.96 332.33,427.96 333.99,427.96 335.64,427.96 337.30,427.96 338.95,427.96 340.61,427.96 342.26,427.96 343.92,427.96 345.58,427.96 347.23,427.97 348.89,427.97 350.54,427.97 352.20,427.97 353.85,427.97 355.51,427.98 357.16,427.98 358.82,427.98 360.47,427.99 362.13,427.99 363.79,428.00 365.44,428.00 367.10,428.01 368.75,428.02 370.41,428.03 372.06,428.04 373.72,428.05 375.37,428.06 377.03,428.07 378.68,428.09 380.34,428.11 382.00,428.13 383.65,428.15 385.31,428.18 386.96,428.21 388.62,428.24 390.27,428.28 391.93,428.33 393.58,428.37 395.24,428.43 396.89,428.49 398.55,428.56 400.21,428.65 401.86,428.74 403.52,428.84 405.17,428.96 406.83,429.09 408.48,429.24 410.14,429.40 411.79,429.59 413.45,429.81 415.11,430.05 416.76,430.32 418.42,430.62 420.07,430.96 421.73,431.35 423.38,431.78 425.04,432.26 426.69,432.81 428.35,433.41 430.00,434.09 431.66,434.84 433.32,435.67 434.97,436.60 436.63,437.62 438.28,438.75 439.94,439.98 441.59,441.34 443.25,442.82 444.90,444.42 446.56,446.16 448.21,448.03 449.87,450.03 451.53,452.16 453.18,454.41 454.84,456.78 456.49,459.25 458.15,461.81 459.80,464.45 461.46,467.15 463.11,469.88 464.77,472.63 466.42,475.38 468.08,478.10 469.74,480.77 471.39,483.38 473.05,485.91 474.70,488.34 476.36,490.67 478.01,492.87 479.67,494.95 481.32,496.90 482.98,498.72 484.63,500.40 486.29,501.96 487.95,503.39 489.60,504.70 491.26,505.89 492.91,506.98 494.57,507.96 496.22,508.85 497.88,509.65 499.53,510.37 501.19,511.02 502.84,511.60 504.50,512.12" fill="none" stroke="#9a0f2a" stroke-width="1.75" stroke-linejoin="round"/><path d="M307.50 420.37L310.30 423.17L307.50 425.97L304.70 423.17Z" fill="#bb102d"/><path d="M340.31 424.49L343.11 427.29L340.31 430.09L337.51 427.29Z" fill="#bb102d"/><path d="M373.17 428.01L375.97 430.81L373.17 433.61L370.37 430.81Z" fill="#bb102d"/><path d="M405.98 428.97L408.78 431.77L405.98 434.57L403.18 431.77Z" fill="#bb102d"/><path d="M438.83 438.45L441.63 441.25L438.83 444.05L436.03 441.25Z" fill="#bb102d"/><path d="M471.65 477.17L474.45 479.97L471.65 482.77L468.85 479.97Z" fill="#bb102d"/><path d="M504.50 514.66L507.30 517.46L504.50 520.26L501.70 517.46Z" fill="#bb102d"/><text x="468.00" y="407.70" font-size="8.8" fill="#2a2a2a" stroke="#2a2a2a" stroke-width="0.15" font-family="'Liberation Sans', sans-serif" textLength="45.20" lengthAdjust="spacingAndGlyphs">FV-deficient</text><text x="353.20" y="564.80" font-size="10.8" fill="#2a2a2a" stroke="#2a2a2a" stroke-width="0.3" font-family="'Liberation Sans', sans-serif" textLength="113.8" lengthAdjust="spacingAndGlyphs">SR604 concentration (µg/mL)</text><text transform="translate(277.80,467.10) rotate(-90)" x="0" y="0" text-anchor="middle" font-size="11.3" fill="#2a2a2a" stroke="#2a2a2a" stroke-width="0.3" font-family="'Liberation Sans', sans-serif" textLength="61.5" lengthAdjust="spacingAndGlyphs">Clotting time (s)</text></g>
<g><line x1="45.40" y1="688.10" x2="244.60" y2="688.10" stroke="#3a3a3a" stroke-width="1.35" stroke-dasharray="2.3 2.6"/><path d="M46.50 587.60V725.80M43.00 722.30H251.10" stroke="#1a1a1a" stroke-width="1.3" fill="none"/><line x1="43.00" y1="722.30" x2="46.50" y2="722.30" stroke="#1a1a1a" stroke-width="1.2"/><text transform="translate(39.40,725.30) scale(0.9,1)" text-anchor="end" font-size="9.8" fill="#2a2a2a" stroke="#2a2a2a" stroke-width="0.2" font-family="'Liberation Sans', sans-serif">0</text><line x1="43.00" y1="678.40" x2="46.50" y2="678.40" stroke="#1a1a1a" stroke-width="1.2"/><text transform="translate(39.40,681.40) scale(0.9,1)" text-anchor="end" font-size="9.8" fill="#2a2a2a" stroke="#2a2a2a" stroke-width="0.2" font-family="'Liberation Sans', sans-serif">200</text><line x1="43.00" y1="634.50" x2="46.50" y2="634.50" stroke="#1a1a1a" stroke-width="1.2"/><text transform="translate(39.40,637.50) scale(0.9,1)" text-anchor="end" font-size="9.8" fill="#2a2a2a" stroke="#2a2a2a" stroke-width="0.2" font-family="'Liberation Sans', sans-serif">400</text><line x1="43.00" y1="590.60" x2="46.50" y2="590.60" stroke="#1a1a1a" stroke-width="1.2"/><text transform="translate(39.40,593.60) scale(0.9,1)" text-anchor="end" font-size="9.8" fill="#2a2a2a" stroke="#2a2a2a" stroke-width="0.2" font-family="'Liberation Sans', sans-serif">600</text><line x1="46.50" y1="722.30" x2="46.50" y2="725.80" stroke="#1a1a1a" stroke-width="1.2"/><text transform="translate(46.40,737.40) scale(0.9,1)" text-anchor="middle" font-size="9.8" fill="#2a2a2a" stroke="#2a2a2a" stroke-width="0.2" font-family="'Liberation Sans', sans-serif">0.001</text><line x1="112.20" y1="722.30" x2="112.20" y2="725.80" stroke="#1a1a1a" stroke-width="1.2"/><text transform="translate(112.10,737.40) scale(0.9,1)" text-anchor="middle" font-size="9.8" fill="#2a2a2a" stroke="#2a2a2a" stroke-width="0.2" font-family="'Liberation Sans', sans-serif">0.01</text><line x1="177.90" y1="722.30" x2="177.90" y2="725.80" stroke="#1a1a1a" stroke-width="1.2"/><text transform="translate(177.80,737.40) scale(0.9,1)" text-anchor="middle" font-size="9.8" fill="#2a2a2a" stroke="#2a2a2a" stroke-width="0.2" font-family="'Liberation Sans', sans-serif">0.1</text><line x1="243.60" y1="722.30" x2="243.60" y2="725.80" stroke="#1a1a1a" stroke-width="1.2"/><text transform="translate(243.50,737.40) scale(0.9,1)" text-anchor="middle" font-size="9.8" fill="#2a2a2a" stroke="#2a2a2a" stroke-width="0.2" font-family="'Liberation Sans', sans-serif">1</text><line x1="66.28" y1="722.30" x2="66.28" y2="724.10" stroke="#1a1a1a" stroke-width="1"/><line x1="77.85" y1="722.30" x2="77.85" y2="724.10" stroke="#1a1a1a" stroke-width="1"/><line x1="86.06" y1="722.30" x2="86.06" y2="724.10" stroke="#1a1a1a" stroke-width="1"/><line x1="92.42" y1="722.30" x2="92.42" y2="724.10" stroke="#1a1a1a" stroke-width="1"/><line x1="97.62" y1="722.30" x2="97.62" y2="724.10" stroke="#1a1a1a" stroke-width="1"/><line x1="102.02" y1="722.30" x2="102.02" y2="724.10" stroke="#1a1a1a" stroke-width="1"/><line x1="105.83" y1="722.30" x2="105.83" y2="724.10" stroke="#1a1a1a" stroke-width="1"/><line x1="109.19" y1="722.30" x2="109.19" y2="724.10" stroke="#1a1a1a" stroke-width="1"/><line x1="131.98" y1="722.30" x2="131.98" y2="724.10" stroke="#1a1a1a" stroke-width="1"/><line x1="143.55" y1="722.30" x2="143.55" y2="724.10" stroke="#1a1a1a" stroke-width="1"/><line x1="151.76" y1="722.30" x2="151.76" y2="724.10" stroke="#1a1a1a" stroke-width="1"/><line x1="158.12" y1="722.30" x2="158.12" y2="724.10" stroke="#1a1a1a" stroke-width="1"/><line x1="163.32" y1="722.30" x2="163.32" y2="724.10" stroke="#1a1a1a" stroke-width="1"/><line x1="167.72" y1="722.30" x2="167.72" y2="724.10" stroke="#1a1a1a" stroke-width="1"/><line x1="171.53" y1="722.30" x2="171.53" y2="724.10" stroke="#1a1a1a" stroke-width="1"/><line x1="174.89" y1="722.30" x2="174.89" y2="724.10" stroke="#1a1a1a" stroke-width="1"/><line x1="197.68" y1="722.30" x2="197.68" y2="724.10" stroke="#1a1a1a" stroke-width="1"/><line x1="209.25" y1="722.30" x2="209.25" y2="724.10" stroke="#1a1a1a" stroke-width="1"/><line x1="217.46" y1="722.30" x2="217.46" y2="724.10" stroke="#1a1a1a" stroke-width="1"/><line x1="223.82" y1="722.30" x2="223.82" y2="724.10" stroke="#1a1a1a" stroke-width="1"/><line x1="229.02" y1="722.30" x2="229.02" y2="724.10" stroke="#1a1a1a" stroke-width="1"/><line x1="233.42" y1="722.30" x2="233.42" y2="724.10" stroke="#1a1a1a" stroke-width="1"/><line x1="237.23" y1="722.30" x2="237.23" y2="724.10" stroke="#1a1a1a" stroke-width="1"/><line x1="240.59" y1="722.30" x2="240.59" y2="724.10" stroke="#1a1a1a" stroke-width="1"/><polyline points="46.50,600.46 48.16,600.59 49.81,600.74 51.47,600.89 53.13,601.04 54.78,601.21 56.44,601.38 58.09,601.57 59.75,601.76 61.41,601.96 63.06,602.17 64.72,602.40 66.38,602.63 68.03,602.88 69.69,603.14 71.34,603.41 73.00,603.69 74.66,603.99 76.31,604.30 77.97,604.63 79.63,604.98 81.28,605.34 82.94,605.72 84.59,606.11 86.25,606.52 87.91,606.96 89.56,607.41 91.22,607.88 92.88,608.37 94.53,608.88 96.19,609.42 97.85,609.98 99.50,610.56 101.16,611.16 102.81,611.79 104.47,612.44 106.13,613.12 107.78,613.82 109.44,614.55 111.10,615.31 112.75,616.09 114.41,616.90 116.06,617.73 117.72,618.60 119.38,619.48 121.03,620.40 122.69,621.34 124.35,622.31 126.00,623.30 127.66,624.32 129.32,625.36 130.97,626.43 132.63,627.52 134.28,628.63 135.94,629.76 137.60,630.91 139.25,632.09 140.91,633.27 142.57,634.48 144.22,635.70 145.88,636.93 147.53,638.18 149.19,639.43 150.85,640.69 152.50,641.96 154.16,643.23 155.82,644.51 157.47,645.78 159.13,647.06 160.78,648.33 162.44,649.60 164.10,650.85 165.75,652.10 167.41,653.34 169.07,654.57 170.72,655.79 172.38,656.99 174.04,658.17 175.69,659.33 177.35,660.48 179.00,661.60 180.66,662.70 182.32,663.78 183.97,664.84 185.63,665.87 187.29,666.88 188.94,667.86 190.60,668.82 192.25,669.75 193.91,670.65 195.57,671.53 197.22,672.38 198.88,673.20 200.54,674.00 202.19,674.77 203.85,675.51 205.51,676.23 207.16,676.93 208.82,677.59 210.47,678.24 212.13,678.85 213.79,679.45 215.44,680.02 217.10,680.57 218.76,681.09 220.41,681.60 222.07,682.08 223.72,682.54 225.38,682.99 227.04,683.41 228.69,683.82 230.35,684.20 232.01,684.57 233.66,684.93 235.32,685.26 236.97,685.59 238.63,685.89 240.29,686.19 241.94,686.47 243.60,686.73" fill="none" stroke="#9a0f2a" stroke-width="1.75" stroke-linejoin="round"/><path d="M46.50 596.01L49.30 598.81L46.50 601.61L43.70 598.81Z" fill="#bb102d"/><path d="M79.33 603.82L82.13 606.62L79.33 609.42L76.53 606.62Z" fill="#bb102d"/><path d="M112.20 614.21L115.00 617.01L112.20 619.81L109.40 617.01Z" fill="#bb102d"/><path d="M145.03 631.11L147.83 633.91L145.03 636.71L142.23 633.91Z" fill="#bb102d"/><path d="M177.90 659.58L180.70 662.38L177.90 665.18L175.10 662.38Z" fill="#bb102d"/><path d="M210.73 675.60L213.53 678.40L210.73 681.20L207.93 678.40Z" fill="#bb102d"/><path d="M243.60 683.50L246.40 686.30L243.60 689.10L240.80 686.30Z" fill="#bb102d"/><text x="207.00" y="594.80" font-size="8.8" fill="#2a2a2a" stroke="#2a2a2a" stroke-width="0.15" font-family="'Liberation Sans', sans-serif" textLength="45.80" lengthAdjust="spacingAndGlyphs">FX-deficient</text><text x="92.20" y="751.90" font-size="10.8" fill="#2a2a2a" stroke="#2a2a2a" stroke-width="0.3" font-family="'Liberation Sans', sans-serif" textLength="113.8" lengthAdjust="spacingAndGlyphs">SR604 concentration (µg/mL)</text><text transform="translate(16.80,654.20) rotate(-90)" x="0" y="0" text-anchor="middle" font-size="11.3" fill="#2a2a2a" stroke="#2a2a2a" stroke-width="0.3" font-family="'Liberation Sans', sans-serif" textLength="61.5" lengthAdjust="spacingAndGlyphs">Clotting time (s)</text></g>
<g><line x1="306.40" y1="673.44" x2="505.50" y2="673.44" stroke="#3a3a3a" stroke-width="1.35" stroke-dasharray="2.3 2.6"/><path d="M307.50 587.60V725.80M304.00 722.30H512.00" stroke="#1a1a1a" stroke-width="1.3" fill="none"/><line x1="304.00" y1="722.30" x2="307.50" y2="722.30" stroke="#1a1a1a" stroke-width="1.2"/><text transform="translate(300.40,725.30) scale(0.9,1)" text-anchor="end" font-size="9.8" fill="#2a2a2a" stroke="#2a2a2a" stroke-width="0.2" font-family="'Liberation Sans', sans-serif">0</text><line x1="304.00" y1="695.96" x2="307.50" y2="695.96" stroke="#1a1a1a" stroke-width="1.2"/><text transform="translate(300.40,698.96) scale(0.9,1)" text-anchor="end" font-size="9.8" fill="#2a2a2a" stroke="#2a2a2a" stroke-width="0.2" font-family="'Liberation Sans', sans-serif">20</text><line x1="304.00" y1="669.62" x2="307.50" y2="669.62" stroke="#1a1a1a" stroke-width="1.2"/><text transform="translate(300.40,672.62) scale(0.9,1)" text-anchor="end" font-size="9.8" fill="#2a2a2a" stroke="#2a2a2a" stroke-width="0.2" font-family="'Liberation Sans', sans-serif">40</text><line x1="304.00" y1="643.28" x2="307.50" y2="643.28" stroke="#1a1a1a" stroke-width="1.2"/><text transform="translate(300.40,646.28) scale(0.9,1)" text-anchor="end" font-size="9.8" fill="#2a2a2a" stroke="#2a2a2a" stroke-width="0.2" font-family="'Liberation Sans', sans-serif">60</text><line x1="304.00" y1="616.94" x2="307.50" y2="616.94" stroke="#1a1a1a" stroke-width="1.2"/><text transform="translate(300.40,619.94) scale(0.9,1)" text-anchor="end" font-size="9.8" fill="#2a2a2a" stroke="#2a2a2a" stroke-width="0.2" font-family="'Liberation Sans', sans-serif">80</text><line x1="304.00" y1="590.60" x2="307.50" y2="590.60" stroke="#1a1a1a" stroke-width="1.2"/><text transform="translate(300.40,593.60) scale(0.9,1)" text-anchor="end" font-size="9.8" fill="#2a2a2a" stroke="#2a2a2a" stroke-width="0.2" font-family="'Liberation Sans', sans-serif">100</text><line x1="307.50" y1="722.30" x2="307.50" y2="725.80" stroke="#1a1a1a" stroke-width="1.2"/><text transform="translate(307.40,737.40) scale(0.9,1)" text-anchor="middle" font-size="9.8" fill="#2a2a2a" stroke="#2a2a2a" stroke-width="0.2" font-family="'Liberation Sans', sans-serif">0.001</text><line x1="373.17" y1="722.30" x2="373.17" y2="725.80" stroke="#1a1a1a" stroke-width="1.2"/><text transform="translate(373.07,737.40) scale(0.9,1)" text-anchor="middle" font-size="9.8" fill="#2a2a2a" stroke="#2a2a2a" stroke-width="0.2" font-family="'Liberation Sans', sans-serif">0.01</text><line x1="438.83" y1="722.30" x2="438.83" y2="725.80" stroke="#1a1a1a" stroke-width="1.2"/><text transform="translate(438.73,737.40) scale(0.9,1)" text-anchor="middle" font-size="9.8" fill="#2a2a2a" stroke="#2a2a2a" stroke-width="0.2" font-family="'Liberation Sans', sans-serif">0.1</text><line x1="504.50" y1="722.30" x2="504.50" y2="725.80" stroke="#1a1a1a" stroke-width="1.2"/><text transform="translate(504.40,737.40) scale(0.9,1)" text-anchor="middle" font-size="9.8" fill="#2a2a2a" stroke="#2a2a2a" stroke-width="0.2" font-family="'Liberation Sans', sans-serif">1</text><line x1="327.27" y1="722.30" x2="327.27" y2="724.10" stroke="#1a1a1a" stroke-width="1"/><line x1="338.83" y1="722.30" x2="338.83" y2="724.10" stroke="#1a1a1a" stroke-width="1"/><line x1="347.04" y1="722.30" x2="347.04" y2="724.10" stroke="#1a1a1a" stroke-width="1"/><line x1="353.40" y1="722.30" x2="353.40" y2="724.10" stroke="#1a1a1a" stroke-width="1"/><line x1="358.60" y1="722.30" x2="358.60" y2="724.10" stroke="#1a1a1a" stroke-width="1"/><line x1="362.99" y1="722.30" x2="362.99" y2="724.10" stroke="#1a1a1a" stroke-width="1"/><line x1="366.80" y1="722.30" x2="366.80" y2="724.10" stroke="#1a1a1a" stroke-width="1"/><line x1="370.16" y1="722.30" x2="370.16" y2="724.10" stroke="#1a1a1a" stroke-width="1"/><line x1="392.93" y1="722.30" x2="392.93" y2="724.10" stroke="#1a1a1a" stroke-width="1"/><line x1="404.50" y1="722.30" x2="404.50" y2="724.10" stroke="#1a1a1a" stroke-width="1"/><line x1="412.70" y1="722.30" x2="412.70" y2="724.10" stroke="#1a1a1a" stroke-width="1"/><line x1="419.07" y1="722.30" x2="419.07" y2="724.10" stroke="#1a1a1a" stroke-width="1"/><line x1="424.27" y1="722.30" x2="424.27" y2="724.10" stroke="#1a1a1a" stroke-width="1"/><line x1="428.66" y1="722.30" x2="428.66" y2="724.10" stroke="#1a1a1a" stroke-width="1"/><line x1="432.47" y1="722.30" x2="432.47" y2="724.10" stroke="#1a1a1a" stroke-width="1"/><line x1="435.83" y1="722.30" x2="435.83" y2="724.10" stroke="#1a1a1a" stroke-width="1"/><line x1="458.60" y1="722.30" x2="458.60" y2="724.10" stroke="#1a1a1a" stroke-width="1"/><line x1="470.16" y1="722.30" x2="470.16" y2="724.10" stroke="#1a1a1a" stroke-width="1"/><line x1="478.37" y1="722.30" x2="478.37" y2="724.10" stroke="#1a1a1a" stroke-width="1"/><line x1="484.73" y1="722.30" x2="484.73" y2="724.10" stroke="#1a1a1a" stroke-width="1"/><line x1="489.93" y1="722.30" x2="489.93" y2="724.10" stroke="#1a1a1a" stroke-width="1"/><line x1="494.33" y1="722.30" x2="494.33" y2="724.10" stroke="#1a1a1a" stroke-width="1"/><line x1="498.14" y1="722.30" x2="498.14" y2="724.10" stroke="#1a1a1a" stroke-width="1"/><line x1="501.50" y1="722.30" x2="501.50" y2="724.10" stroke="#1a1a1a" stroke-width="1"/><polyline points="307.50,620.71 309.16,620.71 310.81,620.71 312.47,620.71 314.12,620.71 315.78,620.71 317.43,620.71 319.09,620.71 320.74,620.72 322.40,620.72 324.05,620.72 325.71,620.72 327.37,620.72 329.02,620.72 330.68,620.72 332.33,620.73 333.99,620.73 335.64,620.73 337.30,620.73 338.95,620.73 340.61,620.74 342.26,620.74 343.92,620.74 345.58,620.75 347.23,620.75 348.89,620.76 350.54,620.76 352.20,620.77 353.85,620.78 355.51,620.78 357.16,620.79 358.82,620.80 360.47,620.81 362.13,620.82 363.79,620.84 365.44,620.85 367.10,620.87 368.75,620.88 370.41,620.90 372.06,620.92 373.72,620.95 375.37,620.97 377.03,621.00 378.68,621.03 380.34,621.07 382.00,621.11 383.65,621.15 385.31,621.20 386.96,621.25 388.62,621.31 390.27,621.37 391.93,621.44 393.58,621.52 395.24,621.61 396.89,621.70 398.55,621.81 400.21,621.92 401.86,622.05 403.52,622.19 405.17,622.35 406.83,622.52 408.48,622.71 410.14,622.92 411.79,623.15 413.45,623.40 415.11,623.67 416.76,623.97 418.42,624.30 420.07,624.66 421.73,625.05 423.38,625.48 425.04,625.95 426.69,626.45 428.35,627.00 430.00,627.60 431.66,628.24 433.32,628.92 434.97,629.66 436.63,630.46 438.28,631.30 439.94,632.20 441.59,633.15 443.25,634.16 444.90,635.22 446.56,636.32 448.21,637.48 449.87,638.68 451.53,639.92 453.18,641.20 454.84,642.51 456.49,643.84 458.15,645.19 459.80,646.55 461.46,647.91 463.11,649.27 464.77,650.62 466.42,651.95 468.08,653.26 469.74,654.54 471.39,655.78 473.05,656.98 474.70,658.14 476.36,659.25 478.01,660.31 479.67,661.31 481.32,662.27 482.98,663.17 484.63,664.01 486.29,664.81 487.95,665.55 489.60,666.24 491.26,666.88 492.91,667.47 494.57,668.02 496.22,668.53 497.88,668.99 499.53,669.42 501.19,669.82 502.84,670.18 504.50,670.51" fill="none" stroke="#9a0f2a" stroke-width="1.75" stroke-linejoin="round"/><path d="M307.50 617.96L310.30 620.76L307.50 623.56L304.70 620.76Z" fill="#bb102d"/><path d="M340.31 618.09L343.11 620.89L340.31 623.69L337.51 620.89Z" fill="#bb102d"/><path d="M373.17 619.54L375.97 622.34L373.17 625.14L370.37 622.34Z" fill="#bb102d"/><path d="M405.98 620.20L408.78 623.00L405.98 625.80L403.18 623.00Z" fill="#bb102d"/><path d="M438.83 630.21L441.63 633.01L438.83 635.81L436.03 633.01Z" fill="#bb102d"/><path d="M471.65 650.36L474.45 653.16L471.65 655.96L468.85 653.16Z" fill="#bb102d"/><path d="M504.50 671.82L507.30 674.62L504.50 677.42L501.70 674.62Z" fill="#bb102d"/><text x="442.80" y="594.80" font-size="8.8" fill="#2a2a2a" stroke="#2a2a2a" stroke-width="0.15" font-family="'Liberation Sans', sans-serif" textLength="71.70" lengthAdjust="spacingAndGlyphs">Calibration plasma</text><text x="353.20" y="751.90" font-size="10.8" fill="#2a2a2a" stroke="#2a2a2a" stroke-width="0.3" font-family="'Liberation Sans', sans-serif" textLength="113.8" lengthAdjust="spacingAndGlyphs">SR604 concentration (µg/mL)</text><text transform="translate(277.80,654.20) rotate(-90)" x="0" y="0" text-anchor="middle" font-size="11.3" fill="#2a2a2a" stroke="#2a2a2a" stroke-width="0.3" font-family="'Liberation Sans', sans-serif" textLength="61.5" lengthAdjust="spacingAndGlyphs">Clotting time (s)</text></g>
<rect x="0.5" y="0.5" width="519" height="762" fill="none" stroke="#4a4a4a" stroke-width="1"/>
</svg>
</body></html>
